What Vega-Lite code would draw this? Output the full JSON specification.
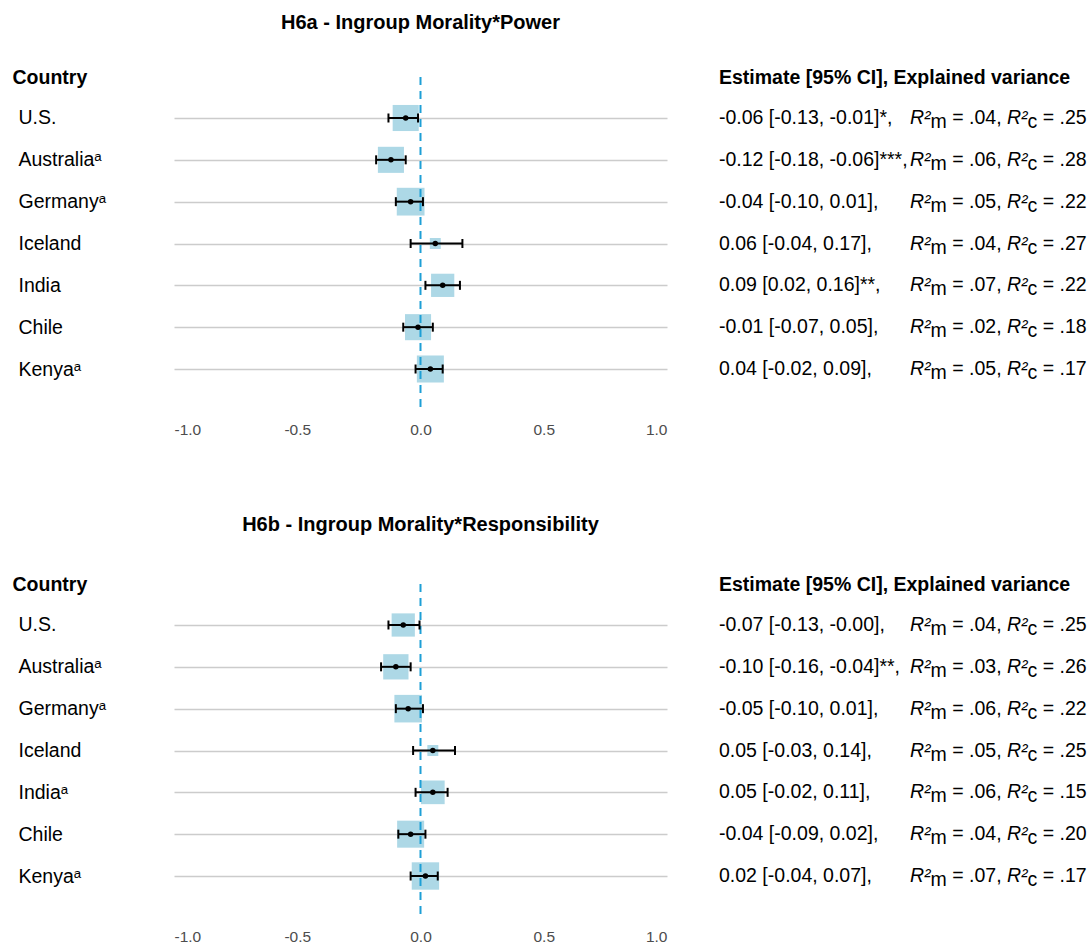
{
  "$schema": "https://vega.github.io/schema/vega-lite/v6.json",
  "background": "white",
  "padding": {"left": 12, "top": 12, "right": 0, "bottom": 0},
  "config": {
    "font": "Liberation Sans",
    "view": {"stroke": null}
  },
  "datasets": {
    "h6a": [
      {"country": "U.S.", "est": -0.06, "lo": -0.13, "hi": -0.01, "w": 0.68, "label": "-0.06 [-0.13, -0.01]*,", "r2m": "= .04,", "r2c": "= .25"},
      {"country": "Australiaᵃ", "est": -0.12, "lo": -0.18, "hi": -0.06, "w": 0.68, "label": "-0.12 [-0.18, -0.06]***,", "r2m": "= .06,", "r2c": "= .28"},
      {"country": "Germanyᵃ", "est": -0.04, "lo": -0.10, "hi": 0.01, "w": 0.77, "label": "-0.04 [-0.10, 0.01],", "r2m": "= .05,", "r2c": "= .22"},
      {"country": "Iceland", "est": 0.06, "lo": -0.04, "hi": 0.17, "w": 0.12, "label": "0.06 [-0.04, 0.17],", "r2m": "= .04,", "r2c": "= .27"},
      {"country": "India", "est": 0.09, "lo": 0.02, "hi": 0.16, "w": 0.54, "label": "0.09 [0.02, 0.16]**,", "r2m": "= .07,", "r2c": "= .22"},
      {"country": "Chile", "est": -0.01, "lo": -0.07, "hi": 0.05, "w": 0.68, "label": "-0.01 [-0.07, 0.05],", "r2m": "= .02,", "r2c": "= .18"},
      {"country": "Kenyaᵃ", "est": 0.04, "lo": -0.02, "hi": 0.09, "w": 0.73, "label": "0.04 [-0.02, 0.09],", "r2m": "= .05,", "r2c": "= .17"}
    ],
    "h6b": [
      {"country": "U.S.", "est": -0.07, "lo": -0.13, "hi": -0.004, "w": 0.54, "label": "-0.07 [-0.13, -0.00],", "r2m": "= .04,", "r2c": "= .25"},
      {"country": "Australiaᵃ", "est": -0.10, "lo": -0.16, "hi": -0.04, "w": 0.64, "label": "-0.10 [-0.16, -0.04]**,", "r2m": "= .03,", "r2c": "= .26"},
      {"country": "Germanyᵃ", "est": -0.05, "lo": -0.10, "hi": 0.01, "w": 0.76, "label": "-0.05 [-0.10, 0.01],", "r2m": "= .06,", "r2c": "= .22"},
      {"country": "Iceland", "est": 0.05, "lo": -0.03, "hi": 0.14, "w": 0.12, "label": "0.05 [-0.03, 0.14],", "r2m": "= .05,", "r2c": "= .25"},
      {"country": "Indiaᵃ", "est": 0.05, "lo": -0.02, "hi": 0.11, "w": 0.56, "label": "0.05 [-0.02, 0.11],", "r2m": "= .06,", "r2c": "= .15"},
      {"country": "Chile", "est": -0.04, "lo": -0.09, "hi": 0.02, "w": 0.73, "label": "-0.04 [-0.09, 0.02],", "r2m": "= .04,", "r2c": "= .20"},
      {"country": "Kenyaᵃ", "est": 0.02, "lo": -0.04, "hi": 0.07, "w": 0.75, "label": "0.02 [-0.04, 0.07],", "r2m": "= .07,", "r2c": "= .17"}
    ],
    "ref": [{"zero": 0}]
  },
  "bounds": "flush",
  "columns": 2,
  "spacing": {"row": 174, "column": 52},
  "concat": [
    {
      "data": {"name": "h6a"},
      "width": 493,
      "height": 333,
      "title": {"text": "H6a - Ingroup Morality*Power", "anchor": "middle", "frame": "group", "fontSize": 20, "fontWeight": "bold", "baseline": "middle", "offset": 24.5, "color": "black"},
      "layer": [
        {
          "mark": {"type": "point", "shape": "square", "filled": true, "color": "#ADD8E6", "opacity": 1, "strokeWidth": 0},
          "encoding": {
            "y": {"field": "country", "type": "nominal", "sort": null,
              "scale": {"type": "point", "domain": ["U.S.", "Australiaᵃ", "Germanyᵃ", "Iceland", "India", "Chile", "Kenyaᵃ"], "padding": 0.98},
              "axis": {"title": "Country", "titleAngle": 0, "titleAlign": "left", "titleBaseline": "middle", "titleX": -162, "titleY": 0, "titleFontSize": 19.5, "titleFontWeight": "bold", "titleColor": "black", "labelAlign": "left", "labelBaseline": "middle", "labelPadding": 156, "labelFontSize": 19.5, "labelColor": "black", "labelLimit": 0, "ticks": false, "tickSize": 0, "domain": false, "grid": true, "gridColor": "#CCCCCC", "gridWidth": 1.5}},
            "x": {"field": "est", "type": "quantitative",
              "scale": {"domain": [-1, 1], "nice": false, "zero": false},
              "axis": {"values": [-1, -0.5, 0, 0.5, 1], "labelExpr": "datum.value < 0 ? '-' + format(-datum.value, '.1f') : format(datum.value, '.1f')", "title": null, "grid": false, "domain": false, "ticks": false, "tickSize": 0, "labelPadding": 12, "labelFontSize": 15.5, "labelColor": "#4D4D4D"}},
            "size": {"field": "w", "type": "quantitative", "scale": {"domain": [0, 1], "range": [0, 1000]}, "legend": null}
          }
        },
        {
          "data": {"name": "ref"},
          "mark": {"type": "rule", "strokeDash": [8, 6], "color": "#1E9FD6", "strokeWidth": 2},
          "encoding": {"x": {"field": "zero", "type": "quantitative"}}
        },
        {
          "mark": {"type": "rule", "color": "black", "strokeWidth": 2},
          "encoding": {
            "y": {"field": "country", "type": "nominal", "sort": null},
            "x": {"field": "lo", "type": "quantitative"},
            "x2": {"field": "hi"}
          }
        },
        {
          "mark": {"type": "tick", "color": "black", "thickness": 2, "size": 9, "opacity": 1, "orient": "vertical"},
          "encoding": {
            "y": {"field": "country", "type": "nominal", "sort": null},
            "x": {"field": "lo", "type": "quantitative"}
          }
        },
        {
          "mark": {"type": "tick", "color": "black", "thickness": 2, "size": 9, "opacity": 1, "orient": "vertical"},
          "encoding": {
            "y": {"field": "country", "type": "nominal", "sort": null},
            "x": {"field": "hi", "type": "quantitative"}
          }
        },
        {
          "mark": {"type": "point", "shape": "circle", "filled": true, "color": "black", "opacity": 1, "size": 30},
          "encoding": {
            "y": {"field": "country", "type": "nominal", "sort": null},
            "x": {"field": "est", "type": "quantitative"}
          }
        }
      ]
    },
    {
      "data": {"name": "h6a"},
      "width": 360,
      "height": 333,
      "title": {"text": "Estimate [95% CI], Explained variance", "anchor": "start", "frame": "group", "fontSize": 19.5, "fontWeight": "bold", "baseline": "middle", "offset": -20.5, "color": "black"},
      "encoding": {
        "y": {"field": "country", "type": "nominal", "sort": null, "axis": null,
          "scale": {"type": "point", "domain": ["U.S.", "Australiaᵃ", "Germanyᵃ", "Iceland", "India", "Chile", "Kenyaᵃ"], "padding": 0.98}}
      },
      "layer": [
        {"mark": {"type": "text", "x": 0, "align": "left", "baseline": "middle", "fontSize": 19.5, "color": "black"}, "encoding": {"text": {"field": "label"}}},
        {"mark": {"type": "text", "x": 0, "dx": 191, "align": "left", "baseline": "middle", "fontSize": 19.5, "fontStyle": "italic", "color": "black", "text": "R²"}},
        {"mark": {"type": "text", "x": 0, "dx": 211.6, "dy": 4, "align": "left", "baseline": "middle", "fontSize": 19.5, "color": "black", "text": "m"}},
        {"mark": {"type": "text", "x": 0, "dx": 233.3, "align": "left", "baseline": "middle", "fontSize": 19.5, "color": "black"}, "encoding": {"text": {"field": "r2m"}}},
        {"mark": {"type": "text", "x": 0, "dx": 288, "align": "left", "baseline": "middle", "fontSize": 19.5, "fontStyle": "italic", "color": "black", "text": "R²"}},
        {"mark": {"type": "text", "x": 0, "dx": 308.6, "dy": 4, "align": "left", "baseline": "middle", "fontSize": 19.5, "color": "black", "text": "c"}},
        {"mark": {"type": "text", "x": 0, "dx": 323.8, "align": "left", "baseline": "middle", "fontSize": 19.5, "color": "black"}, "encoding": {"text": {"field": "r2c"}}}
      ]
    },
    {
      "data": {"name": "h6b"},
      "width": 493,
      "height": 333,
      "title": {"text": "H6b - Ingroup Morality*Responsibility", "anchor": "middle", "frame": "group", "fontSize": 20, "fontWeight": "bold", "baseline": "middle", "offset": 29.3, "color": "black"},
      "layer": [
        {
          "mark": {"type": "point", "shape": "square", "filled": true, "color": "#ADD8E6", "opacity": 1, "strokeWidth": 0},
          "encoding": {
            "y": {"field": "country", "type": "nominal", "sort": null,
              "scale": {"type": "point", "domain": ["U.S.", "Australiaᵃ", "Germanyᵃ", "Iceland", "Indiaᵃ", "Chile", "Kenyaᵃ"], "padding": 0.98},
              "axis": {"title": "Country", "titleAngle": 0, "titleAlign": "left", "titleBaseline": "middle", "titleX": -162, "titleY": 0, "titleFontSize": 19.5, "titleFontWeight": "bold", "titleColor": "black", "labelAlign": "left", "labelBaseline": "middle", "labelPadding": 156, "labelFontSize": 19.5, "labelColor": "black", "labelLimit": 0, "ticks": false, "tickSize": 0, "domain": false, "grid": true, "gridColor": "#CCCCCC", "gridWidth": 1.5}},
            "x": {"field": "est", "type": "quantitative",
              "scale": {"domain": [-1, 1], "nice": false, "zero": false},
              "axis": {"values": [-1, -0.5, 0, 0.5, 1], "labelExpr": "datum.value < 0 ? '-' + format(-datum.value, '.1f') : format(datum.value, '.1f')", "title": null, "grid": false, "domain": false, "ticks": false, "tickSize": 0, "labelPadding": 12, "labelFontSize": 15.5, "labelColor": "#4D4D4D"}},
            "size": {"field": "w", "type": "quantitative", "scale": {"domain": [0, 1], "range": [0, 1000]}, "legend": null}
          }
        },
        {
          "data": {"name": "ref"},
          "mark": {"type": "rule", "strokeDash": [8, 6], "color": "#1E9FD6", "strokeWidth": 2},
          "encoding": {"x": {"field": "zero", "type": "quantitative"}}
        },
        {
          "mark": {"type": "rule", "color": "black", "strokeWidth": 2},
          "encoding": {
            "y": {"field": "country", "type": "nominal", "sort": null},
            "x": {"field": "lo", "type": "quantitative"},
            "x2": {"field": "hi"}
          }
        },
        {
          "mark": {"type": "tick", "color": "black", "thickness": 2, "size": 9, "opacity": 1, "orient": "vertical"},
          "encoding": {
            "y": {"field": "country", "type": "nominal", "sort": null},
            "x": {"field": "lo", "type": "quantitative"}
          }
        },
        {
          "mark": {"type": "tick", "color": "black", "thickness": 2, "size": 9, "opacity": 1, "orient": "vertical"},
          "encoding": {
            "y": {"field": "country", "type": "nominal", "sort": null},
            "x": {"field": "hi", "type": "quantitative"}
          }
        },
        {
          "mark": {"type": "point", "shape": "circle", "filled": true, "color": "black", "opacity": 1, "size": 30},
          "encoding": {
            "y": {"field": "country", "type": "nominal", "sort": null},
            "x": {"field": "est", "type": "quantitative"}
          }
        }
      ]
    },
    {
      "data": {"name": "h6b"},
      "width": 360,
      "height": 333,
      "title": {"text": "Estimate [95% CI], Explained variance", "anchor": "start", "frame": "group", "fontSize": 19.5, "fontWeight": "bold", "baseline": "middle", "offset": -20.5, "color": "black"},
      "encoding": {
        "y": {"field": "country", "type": "nominal", "sort": null, "axis": null,
          "scale": {"type": "point", "domain": ["U.S.", "Australiaᵃ", "Germanyᵃ", "Iceland", "Indiaᵃ", "Chile", "Kenyaᵃ"], "padding": 0.98}}
      },
      "layer": [
        {"mark": {"type": "text", "x": 0, "align": "left", "baseline": "middle", "fontSize": 19.5, "color": "black"}, "encoding": {"text": {"field": "label"}}},
        {"mark": {"type": "text", "x": 0, "dx": 191, "align": "left", "baseline": "middle", "fontSize": 19.5, "fontStyle": "italic", "color": "black", "text": "R²"}},
        {"mark": {"type": "text", "x": 0, "dx": 211.6, "dy": 4, "align": "left", "baseline": "middle", "fontSize": 19.5, "color": "black", "text": "m"}},
        {"mark": {"type": "text", "x": 0, "dx": 233.3, "align": "left", "baseline": "middle", "fontSize": 19.5, "color": "black"}, "encoding": {"text": {"field": "r2m"}}},
        {"mark": {"type": "text", "x": 0, "dx": 288, "align": "left", "baseline": "middle", "fontSize": 19.5, "fontStyle": "italic", "color": "black", "text": "R²"}},
        {"mark": {"type": "text", "x": 0, "dx": 308.6, "dy": 4, "align": "left", "baseline": "middle", "fontSize": 19.5, "color": "black", "text": "c"}},
        {"mark": {"type": "text", "x": 0, "dx": 323.8, "align": "left", "baseline": "middle", "fontSize": 19.5, "color": "black"}, "encoding": {"text": {"field": "r2c"}}}
      ]
    }
  ]
}
